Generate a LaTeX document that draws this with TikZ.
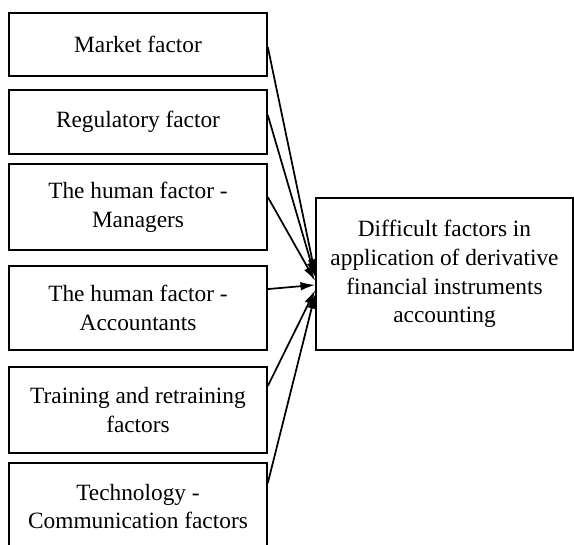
\documentclass[tikz,border=0pt]{standalone}
\usepackage{fontspec}
\setmainfont{Liberation Serif}
\usetikzlibrary{arrows.meta}
\begin{document}
\begin{tikzpicture}[x=0.75pt,y=-0.75pt,
  factor/.style={draw=black,line width=1.2pt,minimum width=258*0.75pt,
    inner sep=0pt,align=center,font=\fontsize{17.5pt}{21.5pt}\selectfont},
  link/.style={draw=black,line width=1.3pt,-{Latex[length=11pt,width=6.5pt]}}]
\useasboundingbox (0,0) rectangle (574,544);
% factor boxes on the left
\node[factor,minimum height=63*0.75pt] (m1) at (138,44.5) {Market factor};
\node[factor,minimum height=64*0.75pt] (m2) at (138,122) {Regulatory factor};
\node[factor,minimum height=86*0.75pt] (m3) at (138,207) {The human factor -\\Managers};
\node[factor,minimum height=84*0.75pt] (m4) at (138,308) {The human factor -\\Accountants};
\node[factor,minimum height=86*0.75pt] (m5) at (138,410) {Training and retraining\\factors};
\node[factor,minimum height=87*0.75pt] (m6) at (138,506.5) {Technology -\\Communication factors};
% outcome box on the right
\node[factor,minimum width=257*0.75pt,minimum height=152*0.75pt] (out) at (444.5,274)
  {Difficult factors in\\application of derivative\\financial instruments\\accounting};
% connectors
\draw[link] ([yshift=-1.9pt]m1.east) -- ([yshift=0pt]out.west);
\draw[link] ([yshift=5.2pt]m2.east) -- ([yshift=-2.2pt]out.west);
\draw[link] ([yshift=7.5pt]m3.east) -- ([yshift=-5.2pt]out.west);
\draw[link] ([yshift=14.2pt]m4.east) -- ([yshift=-8.2pt]out.west);
\draw[link] ([yshift=18pt]m5.east) -- ([yshift=-12pt]out.west);
\draw[link] ([yshift=17.6pt]m6.east) -- ([yshift=-15pt]out.west);
\end{tikzpicture}
\end{document}
